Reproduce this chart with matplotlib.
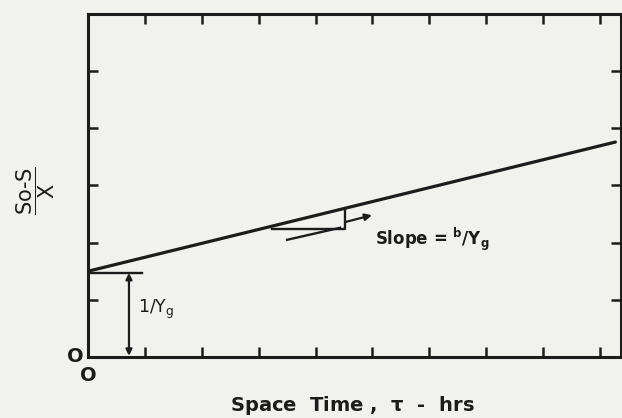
import matplotlib.pyplot as plt

plt.rcParams["font.family"] = ["DejaVu Sans"]
plt.rcParams["mathtext.fontset"] = "dejavusans"
plt.rcParams["mathtext.default"] = "regular"

INK = "#1c1c1c"
PAPER = "#f1f1ee"

# --------------------------------------------------
# data (axis units = tick spacing)
# --------------------------------------------------
line_x = [0.0, 9.27]
line_y = [1.50, 3.76]

intercept_y = 1.47          # level of the 1/Yg marker
intercept_seg_x = [0.0, 0.95]
intercept_arrow_x = 0.72

tri_x = [3.23, 4.52]        # slope triangle legs
tri_y = [2.24, 2.57]
tail_x = [3.50, 4.43]
tail_y = [2.05, 2.26]
pointer_x = [4.52, 4.99]
pointer_y = [2.36, 2.48]

x_ticks = list(range(1, 10))
y_ticks = list(range(1, 6))
x_max = 9.37
y_max = 6.0


fig = plt.figure(figsize=(6.22, 4.18), dpi=100, facecolor=PAPER)
ax = fig.add_axes([0.1415, 0.146, 0.857, 0.8205])
ax.set_facecolor(PAPER)

# main straight line
ax.plot(line_x, line_y, color=INK, lw=2.3, solid_capstyle="round")

# intercept marker and double arrow
ax.plot(intercept_seg_x, [intercept_y, intercept_y], color=INK, lw=1.7)
ax.annotate("", xy=(intercept_arrow_x, 0.02), xytext=(intercept_arrow_x, intercept_y),
            arrowprops=dict(arrowstyle="<|-|>", color=INK, lw=1.6,
                            mutation_scale=9, shrinkA=0, shrinkB=0))
ax.text(0.88, 0.84, r"$1/Y_g$", fontsize=12.5, color=INK, va="center")

# slope triangle
ax.plot([tri_x[0], tri_x[1], tri_x[1]], [tri_y[0], tri_y[0], tri_y[1]],
        color=INK, lw=1.7)
ax.plot(tail_x, tail_y, color=INK, lw=1.7)
ax.annotate("", xy=(pointer_x[1], pointer_y[1]), xytext=(pointer_x[0], pointer_y[0]),
            arrowprops=dict(arrowstyle="-|>", color=INK, lw=1.6,
                            mutation_scale=10, shrinkA=0, shrinkB=0))
ax.text(5.04, 2.05, r"Slope = $^{b}/Y_g$", fontsize=12, color=INK,
        va="center", fontweight="bold")

ax.set_xlim(0, x_max)
ax.set_ylim(0, y_max)
ax.set_xticks(x_ticks)
ax.set_yticks(y_ticks)
ax.set_xticklabels([])
ax.set_yticklabels([])
ax.tick_params(direction="in", length=7, width=1.8, color=INK,
               top=True, right=True)
for s in ax.spines.values():
    s.set_linewidth(2.2)
    s.set_color(INK)

# origin labels
ax.text(-0.22, 0.0, "O", fontsize=14, color=INK, ha="center", va="center",
        fontweight="bold")
ax.text(0.0, -0.32, "O", fontsize=14, color=INK, ha="center", va="center",
        fontweight="bold")

fig.text(0.566, 0.031, "Space  Time ,  $\\tau$  -  hrs", fontsize=14, color=INK,
         ha="center", va="center", fontweight="bold")
fig.text(0.058, 0.545, "$\\dfrac{So\u2010S}{X}$", fontsize=15, color=INK,
         ha="center", va="center", rotation=90)

fig.savefig("out.png", dpi=100, facecolor=PAPER)
